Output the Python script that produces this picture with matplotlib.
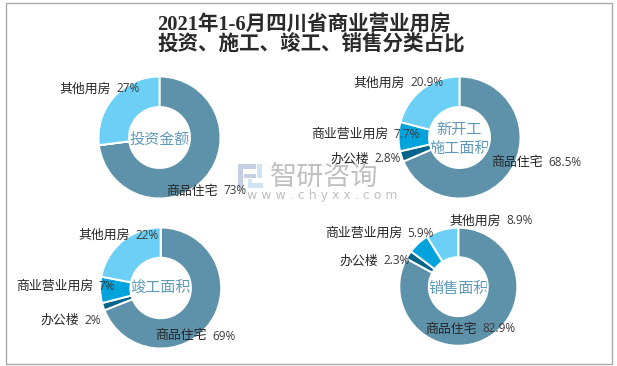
import matplotlib
matplotlib.use('Agg')
import matplotlib.pyplot as plt
from matplotlib.patches import Rectangle

# Data
categories = ['商品住宅', '办公楼', '商业营业用房', '其他用房']
invest = [73, 0, 0, 27]
new_start = [68.5, 2.8, 7.7, 20.9]
completed = [69, 2, 7, 22]
sales = [82.9, 2.3, 5.9, 8.9]
invest_labels = ['73%', '', '', '27%']
new_start_labels = ['68.5%', '2.8%', '7.7%', '20.9%']
completed_labels = ['69%', '2%', '7%', '22%']
sales_labels = ['82.9%', '2.3%', '5.9%', '8.9%']
colours = ['#5d92aa', '#00658a', '#00a3dc', '#6ccff6']

W, H = 617, 366
fig = plt.figure(figsize=(W / 100, H / 100), dpi=100, facecolor='white')
plt.rcParams['font.family'] = ['Noto Sans CJK SC', 'DejaVu Sans']

# background layer in pixel coords
bg = fig.add_axes([0, 0, 1, 1])
bg.set_xlim(0, W)
bg.set_ylim(H, 0)
bg.axis('off')
bg.add_patch(Rectangle((5.5, 2.5), 606, 361, fill=False, ec='#a9a9a9', lw=1))

bg.text(157, 35, '2021年1-6月四川省商业营业用房\n投资、施工、竣工、销售分类占比', ha='left', va='center',
        multialignment='left', fontsize=14.8, fontweight='bold', color='#2a2a2a', linespacing=0.95,
        family=['Liberation Serif', 'Noto Sans CJK SC'])

# watermark
logo_c = '#c5cfe2'
logo_c2 = '#cfe4f2'
for x, y, w, h, c in [(238, 164, 18, 5, logo_c), (257, 164, 5, 14, logo_c2), (244, 174, 12, 4, logo_c),
                      (238, 169, 5, 19, logo_c), (248, 183, 15, 5, logo_c2), (248, 179, 4, 9, logo_c2)]:
    bg.add_patch(Rectangle((x, y), w, h, fc=c, ec='none'))
bg.text(270, 177, '智研咨询', ha='left', va='center', fontsize=19.5, color='#c0c0c0')
bg.text(247, 195, 'w w w . c h y x x . c o m', ha='left', va='center', fontsize=9, color='#c0c0c0',
        family=['DejaVu Sans'])


def donut(vals, cx, cy, r, title, title_y, labels, pos):
    ax = fig.add_axes([(cx - r) / W, 1 - (cy + r) / H, 2 * r / W, 2 * r / H])
    ax.pie(vals, colors=colours, startangle=90, counterclock=False, radius=1,
           wedgeprops=dict(width=0.5, edgecolor='white', linewidth=1.4))
    ax.set_xlim(-1, 1)
    ax.set_ylim(-1, 1)
    ax.patch.set_alpha(0)
    bg.text(cx, title_y, title, ha='center', va='center', fontsize=10.9, color='#5d9ab8',
            linespacing=1.2, zorder=5)
    for cat, lab, p in zip(categories, labels, pos):
        if lab:
            # category and percent use different fonts in the original
            fig.text(p[0] / W, 1 - p[1] / H, cat, ha='left', va='center',
                     fontsize=9.3, color='#262626', zorder=6)
            fig.text((p[0] + 12.5 * len(cat) + 7) / W, 1 - p[1] / H, lab, ha='left', va='center',
                     fontsize=8.5, color='#3a3a3a', zorder=6, family=['Open Sans'])


donut(invest, 159.5, 137.5, 61, '投资金额', 139,
      invest_labels, [(166, 191), None, None, (59, 89)])
donut(new_start, 459.5, 137.5, 61, '新开工\n施工面积', 139,
      new_start_labels, [(491, 163), (330, 159), (311, 134), (353, 83)])
donut(completed, 160.7, 288, 60.5, '竣工面积', 288,
      completed_labels, [(155, 336), (40, 320), (16, 286), (78, 235)])
donut(sales, 458.3, 286.7, 59, '销售面积', 289,
      sales_labels, [(425, 329), (339, 261), (325, 233), (449, 221)])

fig.savefig('out.png', dpi=100, facecolor='white')
